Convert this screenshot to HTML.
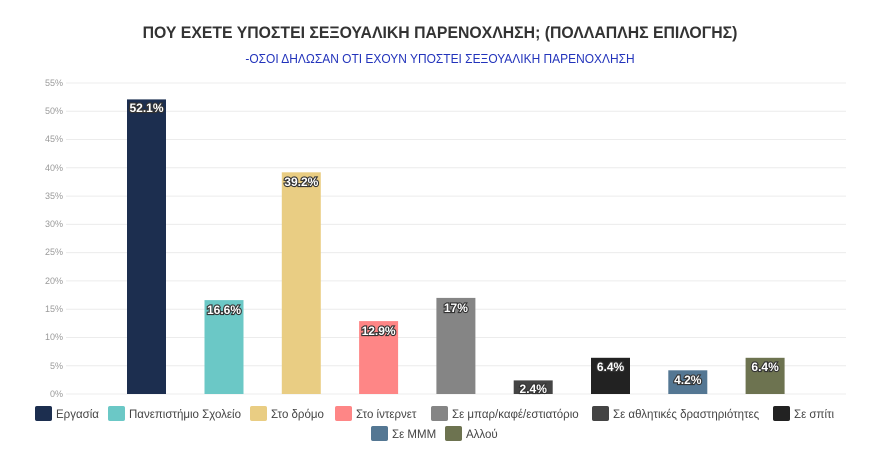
<!DOCTYPE html>
<html><head><meta charset="utf-8"><style>
body{margin:0;background:#fff;}
svg{display:block;font-family:"Liberation Sans",sans-serif;}
.v{font-size:12px;fill:#fff;stroke:#333;stroke-width:2.2px;paint-order:stroke;font-weight:bold;}
.lg{font-size:11.5px;fill:#444;}
.ax{font-size:9px;fill:#999;}
</style></head><body>
<svg width="880" height="455" viewBox="0 0 880 455">
<text x="440" y="38" text-anchor="middle" font-size="17" font-weight="bold" fill="#333" transform="translate(440 0) scale(0.93 1) translate(-440 0)">ΠΟΥ ΕΧΕΤΕ ΥΠΟΣΤΕΙ ΣΕΞΟΥΑΛΙΚΗ ΠΑΡΕΝΟΧΛΗΣΗ; (ΠΟΛΛΑΠΛΗΣ ΕΠΙΛΟΓΗΣ)</text>
<text x="440" y="63" text-anchor="middle" font-size="13" fill="#2233bb" transform="translate(440 0) scale(0.92 1) translate(-440 0)">-ΟΣΟΙ ΔΗΛΩΣΑΝ ΟΤΙ ΕΧΟΥΝ ΥΠΟΣΤΕΙ ΣΕΞΟΥΑΛΙΚΗ ΠΑΡΕΝΟΧΛΗΣΗ</text>
<g stroke="#ececec" stroke-width="1">
<line x1="66" x2="846" y1="83" y2="83"/><line x1="66" x2="846" y1="111.3" y2="111.3"/><line x1="66" x2="846" y1="139.5" y2="139.5"/><line x1="66" x2="846" y1="167.8" y2="167.8"/><line x1="66" x2="846" y1="196.1" y2="196.1"/><line x1="66" x2="846" y1="224.4" y2="224.4"/><line x1="66" x2="846" y1="252.6" y2="252.6"/><line x1="66" x2="846" y1="280.9" y2="280.9"/><line x1="66" x2="846" y1="309.2" y2="309.2"/><line x1="66" x2="846" y1="337.5" y2="337.5"/><line x1="66" x2="846" y1="365.7" y2="365.7"/><line x1="66" x2="846" y1="394" y2="394"/>
</g>
<g class="ax" text-anchor="end">
<text x="63" y="86">55%</text><text x="63" y="114">50%</text><text x="63" y="142">45%</text><text x="63" y="171">40%</text><text x="63" y="199">35%</text><text x="63" y="227">30%</text><text x="63" y="255">25%</text><text x="63" y="284">20%</text><text x="63" y="312">15%</text><text x="63" y="340">10%</text><text x="63" y="369">5%</text><text x="63" y="397">0%</text>
</g>
<g>
<rect x="127" y="99.4" width="39" height="294.6" fill="#1c2e4f"/>
<rect x="204.5" y="300.1" width="39" height="93.9" fill="#6bc8c6"/>
<rect x="281.8" y="172.3" width="39" height="221.7" fill="#e9cd83"/>
<rect x="359.1" y="321.1" width="39" height="72.9" fill="#fe8686"/>
<rect x="436.4" y="297.9" width="39" height="96.1" fill="#858585"/>
<rect x="513.7" y="380.4" width="39" height="13.6" fill="#444444"/>
<rect x="591" y="357.8" width="39" height="36.2" fill="#222222"/>
<rect x="668.3" y="370.3" width="39" height="23.7" fill="#547793"/>
<rect x="745.6" y="357.8" width="39" height="36.2" fill="#6d7350"/>
</g>
<g class="v" text-anchor="middle">
<text x="146.5" y="112">52.1%</text>
<text x="224" y="314">16.6%</text>
<text x="301.3" y="186">39.2%</text>
<text x="378.6" y="335">12.9%</text>
<text x="455.9" y="312">17%</text>
<text x="533.2" y="393">2.4%</text>
<text x="610.5" y="371">6.4%</text>
<text x="687.8" y="384">4.2%</text>
<text x="765.1" y="371">6.4%</text>
</g>
<g class="lg">
<rect x="35" y="406" width="17" height="15" rx="2" fill="#1c2e4f"/><text x="56" y="418">Εργασία</text>
<rect x="108" y="406" width="17" height="15" rx="2" fill="#6bc8c6"/><text x="129" y="418">Πανεπιστήμιο Σχολείο</text>
<rect x="250" y="406" width="17" height="15" rx="2" fill="#e9cd83"/><text x="271" y="418">Στο δρόμο</text>
<rect x="335" y="406" width="17" height="15" rx="2" fill="#fe8686"/><text x="356" y="418">Στο ίντερνετ</text>
<rect x="431" y="406" width="17" height="15" rx="2" fill="#858585"/><text x="452" y="418">Σε μπαρ/καφέ/εστιατόριο</text>
<rect x="592" y="406" width="17" height="15" rx="2" fill="#444444"/><text x="613" y="418">Σε αθλητικές δραστηριότητες</text>
<rect x="773" y="406" width="17" height="15" rx="2" fill="#222222"/><text x="794" y="418">Σε σπίτι</text>
<rect x="371" y="426" width="17" height="15" rx="2" fill="#547793"/><text x="392" y="438">Σε ΜΜΜ</text>
<rect x="445" y="426" width="17" height="15" rx="2" fill="#6d7350"/><text x="466" y="438">Αλλού</text>
</g>
</svg>
</body></html>
